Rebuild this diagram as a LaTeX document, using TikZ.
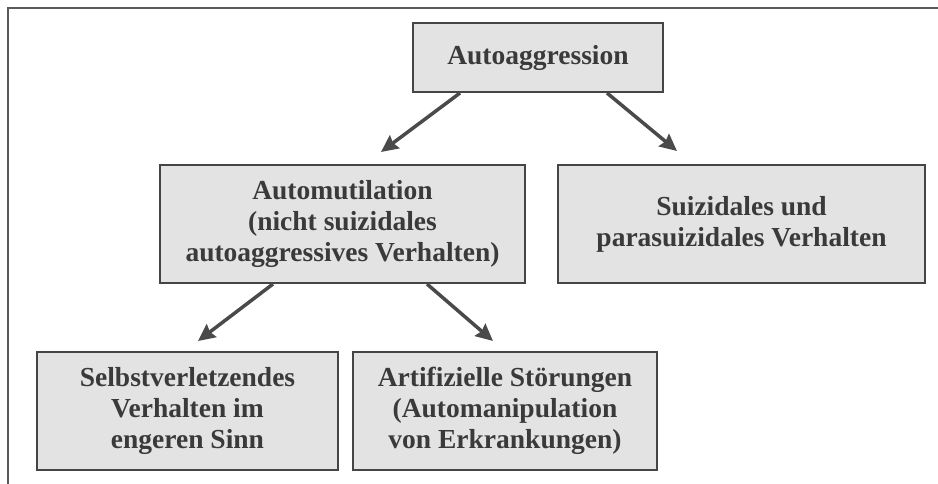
\documentclass[tikz,border=0pt]{standalone}
\usepackage{fontspec}
\setmainfont{Liberation Serif}
\usetikzlibrary{arrows.meta}
\definecolor{boxfill}{HTML}{E3E3E3}
\definecolor{boxline}{HTML}{454545}
\definecolor{txt}{HTML}{3A3A3A}
\definecolor{arrcol}{HTML}{4A4A4A}
\definecolor{framecol}{HTML}{5A5A5A}
\tikzset{
  box/.style={draw=boxline, fill=boxfill, line width=2pt, rectangle, inner sep=0pt,
    align=center, text=txt, font=\bfseries\fontsize{27.5}{31}\selectfont},
  arr/.style={draw=arrcol, line width=3.5pt, -{Triangle[length=17pt,width=16pt,inset=2pt]}},
}
\begin{document}
\begin{tikzpicture}[x=1pt,y=-1pt]
\useasboundingbox (0,0) rectangle (938,484);
\draw[framecol, line width=2pt] (8,484) -- (8,8) -- (938,8);
\node[box, minimum width=250pt, minimum height=69pt] (auto) at (538,57.5) {Autoaggression};
\node[box, minimum width=365pt, minimum height=118pt] (mut) at (342.5,224) {Automutilation\\(nicht suizidales\\autoaggressives Verhalten)};
\node[box, minimum width=367pt, minimum height=118pt] (sui) at (741.5,224) {Suizidales und\\parasuizidales Verhalten};
\node[box, minimum width=301pt, minimum height=118pt] (selbst) at (187.5,411) {Selbstverletzendes\\Verhalten im\\engeren Sinn};
\node[box, minimum width=304pt, minimum height=118pt] (art) at (505,411) {Artifizielle Störungen\\(Automanipulation\\von Erkrankungen)};
\draw[arr] ([xshift=-78pt]auto.south) -- ([xshift=38.5pt,yshift=12pt]mut.north);
\draw[arr] ([xshift=69pt]auto.south) -- ([xshift=-64.5pt,yshift=13pt]sui.north);
\draw[arr] ([xshift=-69.5pt]mut.south) -- ([xshift=10.5pt,yshift=10pt]selbst.north);
\draw[arr] ([xshift=84.5pt]mut.south) -- ([xshift=-12pt,yshift=10pt]art.north);
\end{tikzpicture}
\end{document}
